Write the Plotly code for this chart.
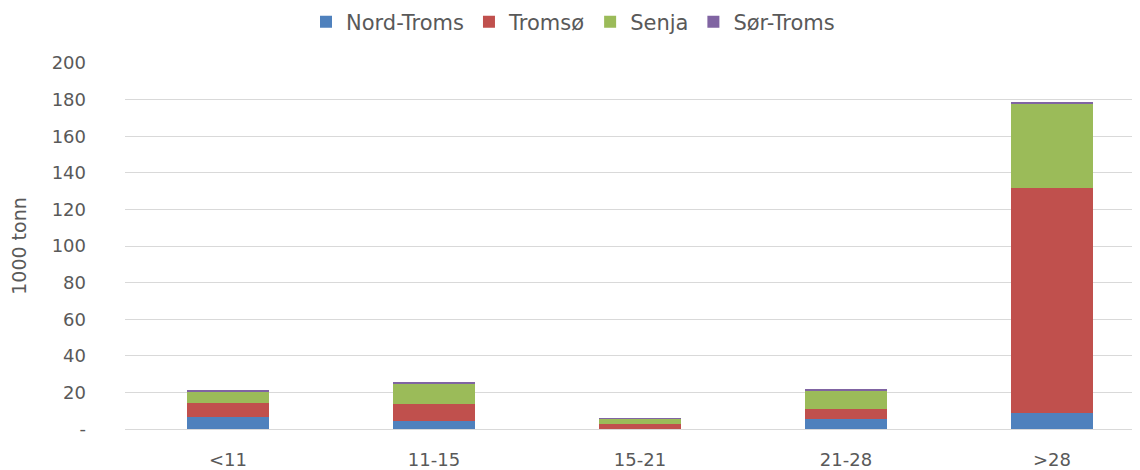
import plotly.graph_objects as go

categories = ["<11", "11-15", "15-21", "21-28", ">28"]
nord_troms = [6.6, 4.5, 0.1, 5.5, 8.6]
tromso = [7.4, 9.0, 2.8, 5.3, 123.3]
senja = [6.6, 11.5, 2.7, 10.0, 46.1]
sor_troms = [0.3, 0.2, 0.1, 0.8, 0.8]

tick_vals = [0, 20, 40, 60, 80, 100, 120, 140, 160, 180, 200]
tick_text = ["-", "20", "40", "60", "80", "100", "120", "140", "160", "180", "200"]

series = [
    ("Nord-Troms", nord_troms, "#4f81bd"),
    ("Tromsø", tromso, "#c0504d"),
    ("Senja", senja, "#9bbb59"),
    ("Sør-Troms", sor_troms, "#8064a2"),
]

fig = go.Figure()
for name, vals, color in series:
    fig.add_trace(go.Bar(
        x=categories, y=vals, name=name, showlegend=False,
        marker=dict(color=color, line=dict(width=0)),
    ))
for name, vals, color in series:
    fig.add_trace(go.Scatter(
        x=[None], y=[None], mode="markers", name=name,
        marker=dict(symbol="square", size=15, color=color),
    ))

W, H = 1132, 462
L, T, B = 117, 55, 41
plot_h = H - T - B
plot_w = W - L

fig.update_layout(
    barmode="stack",
    bargap=0.6,
    width=W, height=H,
    paper_bgcolor="white", plot_bgcolor="white",
    margin=dict(l=L, r=0, t=T, b=B, autoexpand=False),
    font=dict(family="DejaVu Sans, sans-serif", size=18, color="#595959"),
    legend=dict(orientation="h", x=(565 - L) / plot_w, xanchor="center",
                yref="paper", y=1 + (T - 14) / plot_h, yanchor="middle",
                font=dict(size=21), itemwidth=30, traceorder="normal",
                tracegroupgap=0, itemsizing="constant"),
    showlegend=True,
)
fig.update_yaxes(
    range=[0, 200], tickvals=tick_vals, ticktext=tick_text,
    showgrid=True, gridcolor="#d9d9d9", gridwidth=1,
    zeroline=True, zerolinecolor="#d9d9d9", zerolinewidth=1,
    showline=False, ticks="", ticklabelstandoff=38,
    title=dict(text="1000 tonn", standoff=30, font=dict(size=19)),
)
fig.update_xaxes(showline=False, ticks="", showgrid=False,
                 range=[-0.5, -0.5 + plot_w / 206], ticklabelstandoff=18)

fig.write_html("out.html")
